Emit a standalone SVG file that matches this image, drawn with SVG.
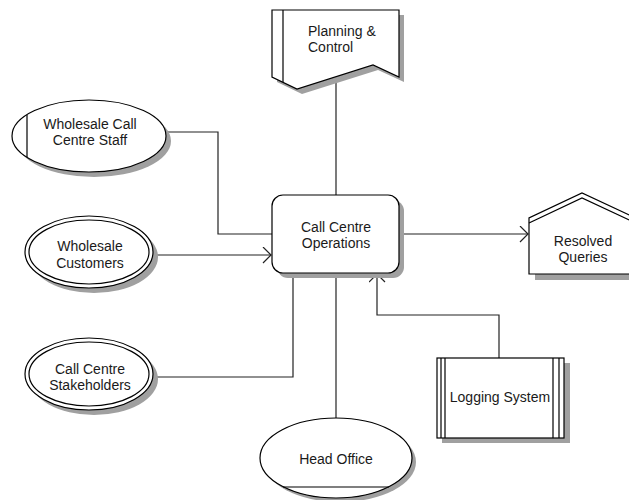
<svg xmlns="http://www.w3.org/2000/svg" width="629" height="500" viewBox="0 0 629 500">
<defs>
<style>
.s{fill:#a0a0a0;stroke:none}
.n{fill:#fff;stroke:#000;stroke-width:1.2}
.l{fill:none;stroke:#000;stroke-width:1.2}
.c{fill:none;stroke:#222;stroke-width:1.2}
text{font-family:"Liberation Sans",Arial,sans-serif;font-size:14px;fill:#1a1a1a}
.m{text-anchor:middle}
</style>
<marker id="arr" markerUnits="userSpaceOnUse" markerWidth="12" markerHeight="18" refX="9" refY="8" orient="auto">
<path d="M1,0 L9,8 L1,16" fill="none" stroke="#222" stroke-width="1.2"/>
</marker>
</defs>
<rect width="629" height="500" fill="#fff"/>
<g id="connectors">
<path class="c" d="M336,77 V195"/>
<path class="c" d="M166,132 H218 V234 H272"/>
<path class="c" d="M153,255 H271" marker-end="url(#arr)"/>
<path class="c" d="M153,377 H293 V273"/>
<path class="c" d="M336,273 V419"/>
<path class="c" d="M399,234 H528" marker-end="url(#arr)"/>
<path class="c" d="M499,358 V315 H377 V274" marker-end="url(#arr)"/>
</g>
<g id="planning">
<path class="s" d="M277,15 H404 V82 L378,70 L302,94 L277,82 Z"/>
<path class="n" d="M272,10 H399 V77 L373,65 L297,89 L272,77 Z"/>
<path class="l" d="M283,10 V82"/>
<text x="308" y="36">Planning &amp;</text>
<text x="308" y="52">Control</text>
</g>
<g id="staff">
<ellipse class="s" cx="94" cy="141" rx="77" ry="36"/>
<ellipse class="n" cx="89" cy="136" rx="77" ry="36"/>
<path class="l" d="M27,115 V157"/>
<text class="m" x="90" y="129">Wholesale Call</text>
<text class="m" x="90" y="145">Centre Staff</text>
</g>
<g id="customers">
<ellipse class="s" cx="94" cy="257" rx="64" ry="36"/>
<ellipse class="n" cx="89" cy="252" rx="64" ry="36"/>
<ellipse class="l" cx="89" cy="252" rx="60" ry="32"/>
<text class="m" x="90" y="251">Wholesale</text>
<text class="m" x="90" y="268">Customers</text>
</g>
<g id="stakeholders">
<ellipse class="s" cx="94" cy="379" rx="64" ry="36"/>
<ellipse class="n" cx="89" cy="374" rx="64" ry="36"/>
<ellipse class="l" cx="89" cy="374" rx="60" ry="32"/>
<text class="m" x="90" y="374">Call Centre</text>
<text class="m" x="90" y="390">Stakeholders</text>
</g>
<g id="operations">
<rect class="s" x="277" y="200" width="127" height="78" rx="11"/>
<rect class="n" x="272" y="195" width="127" height="78" rx="11"/>
<text class="m" x="336" y="232">Call Centre</text>
<text class="m" x="336" y="248">Operations</text>
</g>
<g id="resolved">
<rect class="s" x="535" y="274" width="100" height="6"/>
<path class="n" d="M529,274 V218 L582,193 L640,220 V274 Z"/>
<path class="l" d="M529,223 L582,198 L640,225"/>
<text class="m" x="583" y="246">Resolved</text>
<text class="m" x="583" y="262">Queries</text>
</g>
<g id="logging">
<rect class="s" x="442" y="363" width="128" height="80"/>
<rect class="n" x="437" y="358" width="127" height="80"/>
<path class="l" d="M441,358 V438 M445,358 V438 M553,358 V438 M559,358 V438"/>
<text class="m" x="500" y="402">Logging System</text>
</g>
<g id="headoffice">
<ellipse class="s" cx="340" cy="462" rx="76" ry="40"/>
<ellipse class="n" cx="336" cy="458" rx="76" ry="40"/>
<path class="l" d="M283,487 H389"/>
<text class="m" x="336" y="464">Head Office</text>
</g>
</svg>
